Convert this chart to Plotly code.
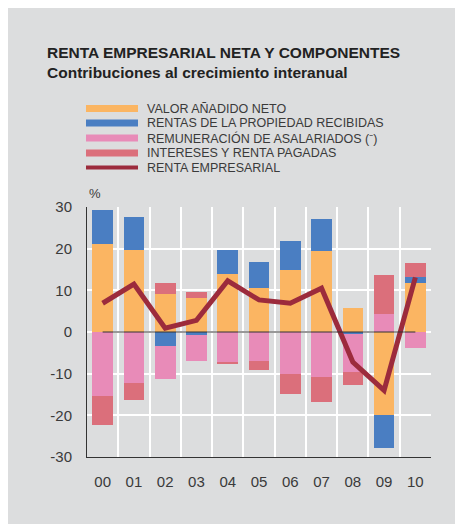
import plotly.graph_objects as go

years = ["00", "01", "02", "03", "04", "05", "06", "07", "08", "09", "10"]
valor_anadido = [21.2, 19.65, 9.15, 8.1, 14.0, 10.5, 15.0, 19.4, 5.8, -20.0, 11.85]
rentas_recibidas = [8.0, 7.95, -3.35, -0.6, 5.8, 6.2, 6.8, 7.7, -0.5, -7.9, 1.45]
remuneracion = [-15.4, -12.2, -7.85, -6.4, -7.4, -7.0, -10.0, -10.8, -9.0, 4.4, -3.8]
intereses = [-6.9, -4.2, 2.55, 1.6, -0.3, -2.0, -4.9, -5.9, -3.3, 9.4, 3.3]
renta_empresarial = [6.9, 11.5, 0.9, 2.8, 12.3, 7.7, 6.9, 10.5, -7.2, -14.0, 13.1]

y_ticks = [-30, -20, -10, 0, 10, 20, 30]
y_ticktext = ["-30", "-20", "-10", "0", "10", "20", "30"]

legend_labels = ["VALOR AÑADIDO NETO", "RENTAS DE LA PROPIEDAD RECIBIDAS",
                 "REMUNERACIÓN DE ASALARIADOS (⁻)", "INTERESES Y RENTA PAGADAS",
                 "RENTA EMPRESARIAL"]
colors = ["#FBB562", "#4A7EC2", "#E88BB8", "#DB6F7B", "#9C2B3C"]

BG = "#DCDDDE"
TXT = "#3a3a3a"
x = list(range(len(years)))

fig = go.Figure()
for vals, c, name in zip([valor_anadido, rentas_recibidas, remuneracion, intereses], colors[:4], legend_labels[:4]):
    fig.add_trace(go.Bar(x=x, y=vals, name=name, marker=dict(color=c, line=dict(width=0)),
                         width=0.66, showlegend=False))
fig.add_trace(go.Scatter(x=x, y=renta_empresarial, mode="lines", name=legend_labels[4],
                         line=dict(color=colors[4], width=5), showlegend=False))

# page offset (body margin) and plot-area geometry in page pixels
OFF = 8
FW, FH = 463 - OFF, 524 - OFF
L, R, T, B = 87, 431, 207, 457
W, H = R - L, B - T
def px(xp): return (xp - L) / W
def py(yp): return (B - yp) / H

shapes = []
annotations = []
# zero line
shapes.append(dict(type="line", xref="x", yref="y", x0=0, x1=10, y0=0, y1=0,
                   line=dict(color="#333333", width=1), layer="above"))

# legend
leg_y = [108.5, 123, 138, 153, 167.5]
for i, (lab, c) in enumerate(zip(legend_labels, colors)):
    hh = 3.5 if i < 4 else 2
    shapes.append(dict(type="rect", xref="paper", yref="paper", x0=px(86), x1=px(138),
                       y0=py(leg_y[i] + hh), y1=py(leg_y[i] - hh), fillcolor=c, line=dict(width=0)))
    annotations.append(dict(xref="paper", yref="paper", x=px(145), y=py(leg_y[i]), text=lab,
                            showarrow=False, xanchor="left", yanchor="middle",
                            font=dict(size=12.5, color=TXT, family="Liberation Sans")))

annotations.append(dict(xref="paper", yref="paper", x=px(45), y=py(53),
                        text="<b>RENTA EMPRESARIAL NETA Y COMPONENTES</b>", showarrow=False,
                        xanchor="left", yanchor="middle",
                        font=dict(size=15.5, color="#222222", family="Liberation Sans")))
annotations.append(dict(xref="paper", yref="paper", x=px(45), y=py(72),
                        text="<b>Contribuciones al crecimiento interanual</b>", showarrow=False,
                        xanchor="left", yanchor="middle",
                        font=dict(size=15.5, color="#222222", family="Liberation Sans")))
annotations.append(dict(xref="paper", yref="paper", x=px(87), y=py(193), text="%", showarrow=False,
                        xanchor="left", yanchor="middle",
                        font=dict(size=13, color=TXT, family="Liberation Sans")))

fig.update_layout(
    width=FW, height=FH,
    margin=dict(l=L - OFF, r=FW - (R - OFF), t=T - OFF, b=FH - (B - OFF), pad=0),
    paper_bgcolor=BG, plot_bgcolor=BG,
    barmode="relative", bargap=0,
    showlegend=False,
    shapes=shapes, annotations=annotations,
    font=dict(family="Liberation Sans", color=TXT),
)
fig.update_xaxes(range=[-0.5, 10.5], tickvals=x, ticktext=years, showgrid=False,
                 ticks="outside", ticklen=11, tickcolor=BG,
                 tickfont=dict(size=15, color=TXT),
                 minor=dict(tick0=0.5, dtick=1, showgrid=True, gridcolor="white", gridwidth=1.5, ticks=""),
                 showline=True, linecolor="#333333", linewidth=1, zeroline=False, mirror=False)
fig.update_yaxes(range=[-30, 30], tickvals=y_ticks, ticktext=y_ticktext, showgrid=True,
                 gridcolor="white", gridwidth=1.5, zeroline=False,
                 ticks="outside", ticklen=11, tickcolor=BG,
                 tickfont=dict(size=15, color=TXT),
                 showline=True, linecolor="#333333", linewidth=1)

fig.write_html("out.html")
